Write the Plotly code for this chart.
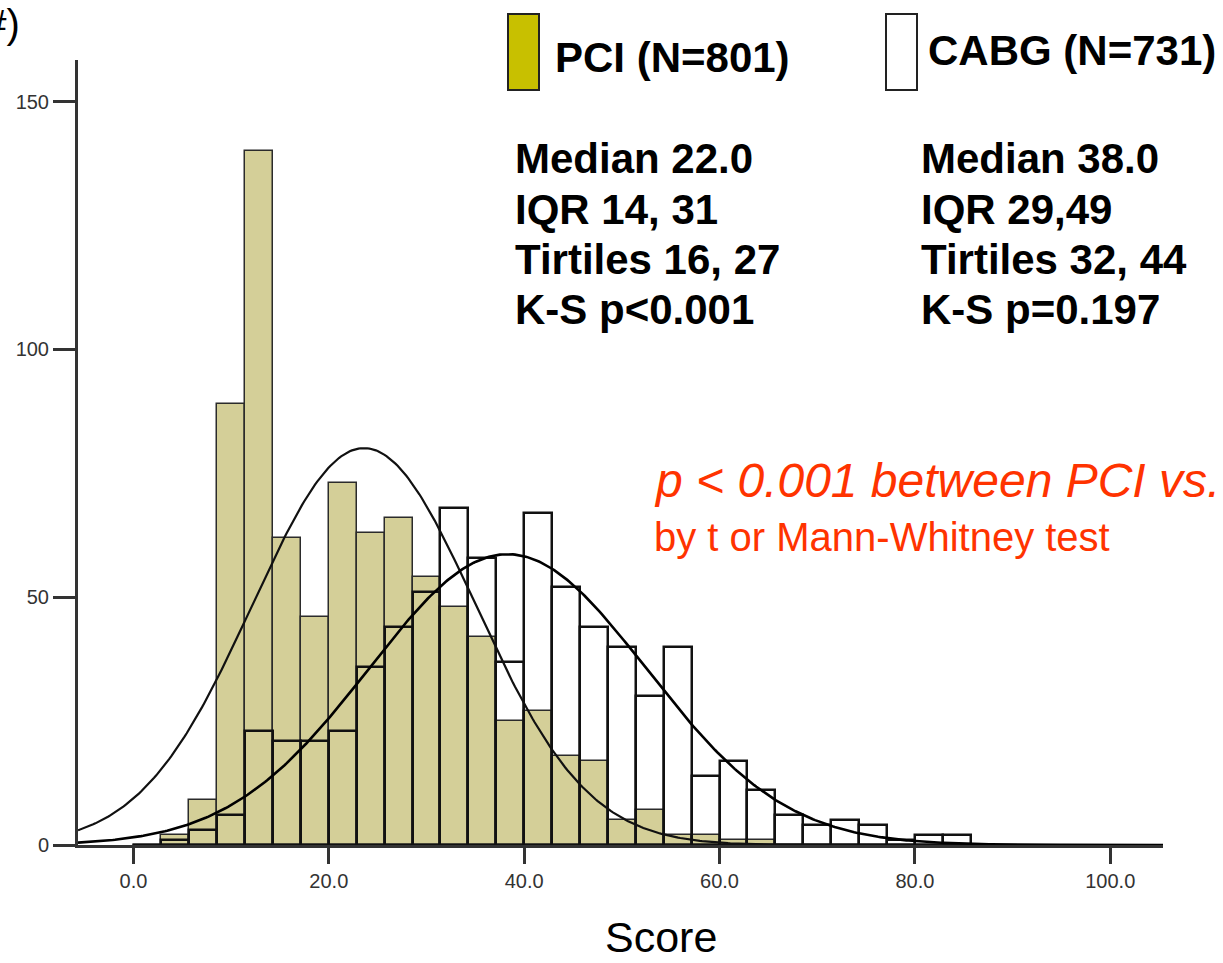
import numpy as np
import plotly.graph_objects as go

# ---------------- data ----------------
bin_width = 20 / 7
bin_index = list(range(30))
pci_counts = [0, 2, 9, 89, 140, 62, 46, 73, 63, 66, 54, 48, 42, 25, 27, 18, 17, 5, 7, 2,
              2, 1, 1, 0, 0, 0, 0, 0, 0, 0]
cabg_counts = [0, 1, 3, 6, 23, 21, 21, 23, 36, 44, 51, 68, 58, 37, 67, 52, 44, 40, 30, 40,
               14, 17, 11, 6, 4, 5, 4, 1, 2, 2]
pci_n, pci_mean, pci_sd = 801, 23.6, 11.4
cabg_n, cabg_mean, cabg_sd = 731, 38.3, 14.2

x_ticks = [0, 20, 40, 60, 80, 100]
y_ticks = [0, 50, 100, 150]

pci_stats = ["Median 22.0", "IQR 14, 31", "Tirtiles 16, 27", "K-S p<0.001"]
cabg_stats = ["Median 38.0", "IQR 29,49", "Tirtiles 32, 44", "K-S p=0.197"]

# ---------------- layout geometry ----------------
W, H = 1223, 963
L, R, T, B = 78, 1163, 60, 845
x_range = [-5.68, 105.4]
y_range = [0, 158.4]


def px(x):
    return (x - L) / (R - L)


def py(y):
    return (B - y) / (B - T)


centers = [(i + 0.5) * bin_width for i in bin_index]

fig = go.Figure()
fig.add_trace(go.Bar(
    x=centers, y=pci_counts, width=bin_width,
    marker=dict(color="#d4cf98", line=dict(color="#2b2b2b", width=1.5)),
    name="PCI", showlegend=False))
fig.add_trace(go.Bar(
    x=centers, y=cabg_counts, width=bin_width,
    marker=dict(color="rgba(255,255,255,0)", line=dict(color="#111111", width=2.5)),
    name="CABG", showlegend=False))

xs = np.linspace(x_range[0], x_range[1], 500)


def normal_curve(n, mu, sd):
    return n * bin_width / (sd * np.sqrt(2 * np.pi)) * np.exp(-0.5 * ((xs - mu) / sd) ** 2)


fig.add_trace(go.Scatter(x=xs, y=normal_curve(pci_n, pci_mean, pci_sd), mode="lines",
                         line=dict(color="#111111", width=2.2), showlegend=False))
fig.add_trace(go.Scatter(x=xs, y=normal_curve(cabg_n, cabg_mean, cabg_sd), mode="lines",
                         line=dict(color="#000000", width=2.6), showlegend=False))

x_tick_font = dict(family="Liberation Sans Narrow, Liberation Sans, Arial", size=20, color="#333333")
y_tick_font = dict(family="Liberation Sans, Arial", size=20, color="#333333")

fig.update_layout(
    width=W, height=H,
    margin=dict(l=L, r=W - R, t=T, b=H - B, pad=0),
    paper_bgcolor="white", plot_bgcolor="white",
    barmode="overlay", bargap=0,
    xaxis=dict(range=x_range, tickvals=x_ticks, ticktext=[f"{v:.1f}" for v in x_ticks],
               showgrid=False, zeroline=False, showline=True, linecolor="#333333", linewidth=3,
               ticks="outside", ticklen=16, tickwidth=3, tickcolor="#333333",
               tickfont=x_tick_font),
    yaxis=dict(range=y_range, tickvals=y_ticks, ticktext=[str(v) for v in y_ticks],
               showgrid=False, zeroline=False, showline=True, linecolor="#333333", linewidth=3,
               ticks="outside", ticklen=22, tickwidth=3, tickcolor="#333333",
               tickfont=y_tick_font),
)

# legend swatches
fig.add_shape(type="rect", xref="paper", yref="paper",
              x0=px(508), x1=px(539), y0=py(90), y1=py(14),
              fillcolor="#c8c000", line=dict(color="#222222", width=2))
fig.add_shape(type="rect", xref="paper", yref="paper",
              x0=px(886), x1=px(917), y0=py(90), y1=py(14),
              fillcolor="white", line=dict(color="#222222", width=2))

bold = dict(family="Liberation Sans, Arial", size=42, color="black")


def ann(text, x, y, font, xanchor="left"):
    fig.add_annotation(text=text, xref="paper", yref="paper", x=px(x), y=py(y),
                       xanchor=xanchor, yanchor="middle", showarrow=False, font=font)


ann("<b>PCI (N=801)</b>", 553, 57, bold)
ann("<b>CABG (N=731)</b>", 926, 50, bold)

line_y = [159, 210, 259, 309]
for txt, yy in zip(pci_stats, line_y):
    ann(f"<b>{txt}</b>", 513, yy, bold)
for txt, yy in zip(cabg_stats, line_y):
    ann(f"<b>{txt}</b>", 919, yy, bold)

red = "#ff3300"
ann("<i>p &lt; 0.001 between PCI vs.</i>", 652, 480,
    dict(family="Liberation Sans, Arial", size=48, color=red))
ann("by t or Mann-Whitney test", 652, 537,
    dict(family="Liberation Sans, Arial", size=40, color=red))

ann("Score", 661, 937, dict(family="Liberation Sans, Arial", size=43, color="black"),
    xanchor="center")
ann("(#)", 22, 24, dict(family="Liberation Sans, Arial", size=40, color="black"),
    xanchor="right")

fig.write_html("out.html")
